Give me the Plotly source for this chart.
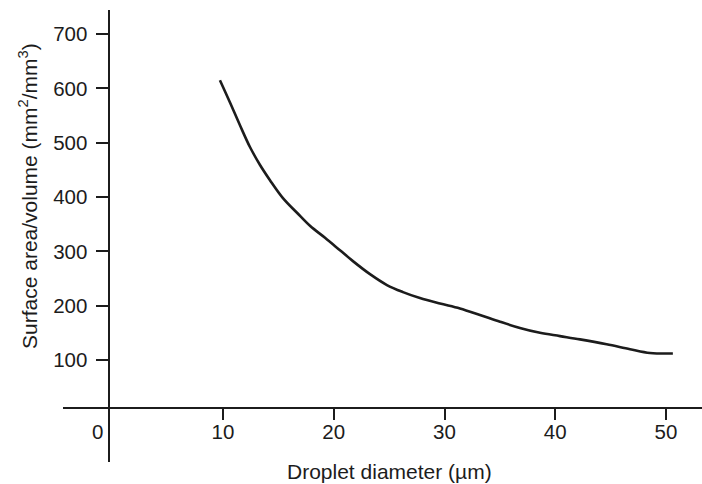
import plotly.graph_objects as go

# Data
diameter_um = [9.72, 10.63, 11.53, 12.43, 13.34, 14.24, 15.41, 16.68, 17.85, 19.21,
               20.56, 21.73, 23.27, 24.80, 26.25, 27.78, 29.59, 31.39, 33.20, 35.01,
               36.81, 38.62, 40.43, 42.23, 44.64, 46.75, 48.55, 50.62]
surface_per_volume = [615, 574, 532, 492, 459, 431, 398, 371, 347, 325,
                      302, 282, 258, 238, 225, 214, 204, 195, 183, 170.5,
                      159, 150, 144, 138, 129, 120, 113, 112]
x_tickvals = [10, 20, 30, 40, 50]
y_tickvals = [100, 200, 300, 400, 500, 600, 700]
x_title = "Droplet diameter (µm)"
y_title = "Surface area/volume (mm<sup>2</sup>/mm<sup>3</sup>)"

FONT = "Liberation Sans, Arial, sans-serif"
INK = "#1c1c1c"

fig = go.Figure()
fig.add_trace(go.Scatter(
    x=diameter_um, y=surface_per_volume, mode="lines",
    line=dict(color=INK, width=2.6, shape="spline", smoothing=1.0),
    hoverinfo="skip", showlegend=False,
))

W, H = 702, 484
ml, mr, mt, mb = 63, 0, 10, 22
plot_w = W - ml - mr
plot_h = H - mt - mb
x_axis_px = 408      # pixel row of the x-axis line
y_axis_px = 108.5    # pixel column of the y-axis line
x_axis_pos = (mt + plot_h - x_axis_px) / plot_h


def px_x(p):
    return (p - ml) / plot_w


def px_y(p):
    return (mt + plot_h - p) / plot_h


fig.update_layout(
    width=W, height=H,
    margin=dict(l=ml, r=mr, t=mt, b=mb, autoexpand=False),
    paper_bgcolor="white", plot_bgcolor="white",
    font=dict(family=FONT, color=INK, size=20),
    xaxis=dict(
        range=[-4.45, 53.25], anchor="free", position=x_axis_pos,
        tickvals=x_tickvals, ticks="outside", ticklen=11, tickwidth=1.5, tickcolor=INK,
        ticklabelstandoff=-6,
        showline=True, linecolor=INK, linewidth=2,
        showgrid=False, zeroline=False,
        tickfont=dict(size=20.5, color=INK),
        automargin=False,
    ),
    yaxis=dict(
        range=[-87.7, 744.2], anchor="free", position=px_x(y_axis_px),
        tickvals=y_tickvals, ticks="outside", ticklen=12, tickwidth=1.5, tickcolor=INK,
        ticklabelstandoff=4,
        showline=True, linecolor=INK, linewidth=2,
        showgrid=False, zeroline=False,
        tickfont=dict(size=20.5, color=INK),
        automargin=False,
    ),
    annotations=[
        dict(text="0", x=0, xref="x", y=x_axis_pos, yref="paper",
             xanchor="center", yanchor="top", xshift=-15, yshift=-10, showarrow=False,
             font=dict(size=20.5, color=INK, family=FONT)),
        dict(text=x_title, x=px_x(390), xref="paper", y=px_y(471), yref="paper",
             xanchor="center", yanchor="middle", showarrow=False,
             font=dict(size=21, color=INK, family=FONT)),
        dict(text=y_title, x=px_x(28), xref="paper", y=px_y(196), yref="paper",
             xanchor="center", yanchor="middle", textangle=-90, showarrow=False,
             font=dict(size=21, color=INK, family=FONT)),
    ],
)

fig.write_html("out.html")
